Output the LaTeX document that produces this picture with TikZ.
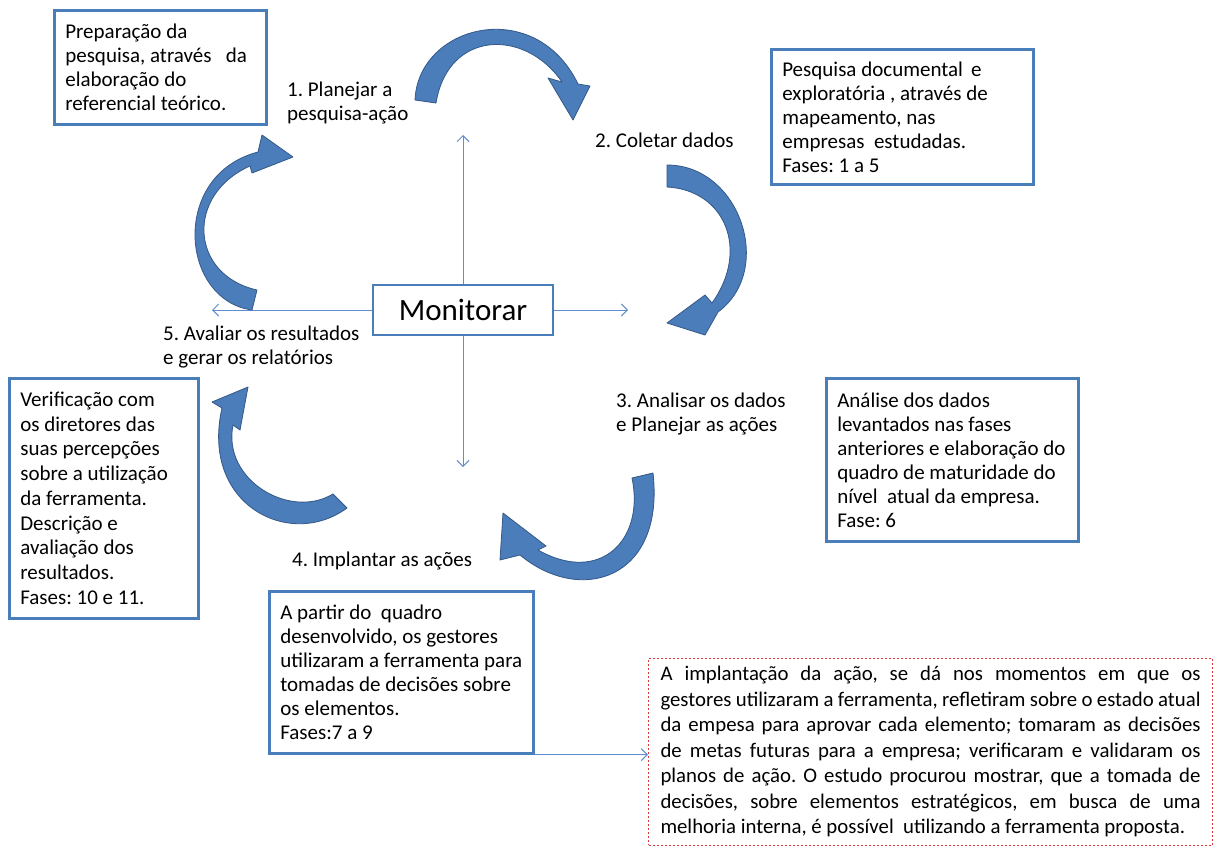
\documentclass[tikz,border=0pt]{standalone}
\usepackage{fontspec}
\setmainfont{Carlito}
\usetikzlibrary{arrows.meta}
\definecolor{boxblue}{RGB}{74,126,187}
\definecolor{arrowfill}{RGB}{74,125,186}
\definecolor{arrowedge}{RGB}{52,88,135}
\definecolor{thinblue}{RGB}{96,142,206}
\definecolor{notered}{RGB}{222,60,60}
\newcommand\bodyfont{\fontsize{21}{24}\selectfont\frenchspacing}
\newcommand\notefont{\fontsize{20.8}{25.5}\selectfont\frenchspacing}
\newcommand\nl[1]{\makebox[540pt][s]{#1}\\}
\tikzset{
  natural spaces/.style={execute at begin node={\spaceskip=0pt\xspaceskip=0pt}},
  box/.style={draw=boxblue, line width=2.6pt, fill=white, inner xsep=11pt,
    inner ysep=0pt, align=left, anchor=north west, font=\bodyfont, natural spaces},
  lbl/.style={align=left, anchor=north west, inner sep=0pt, font=\bodyfont, natural spaces},
  blockarrow/.style={fill=arrowfill, draw=arrowedge, line width=0.8pt, line join=round},
  ray/.style={draw=thinblue, line width=1pt, -{Straight Barb[length=6pt,width=12pt]}},
}
\begin{document}
\begin{tikzpicture}[x=1pt, y=-1pt]
\useasboundingbox (0,0) rectangle (1214,846);

% central node and the four rays
\node[draw=boxblue, line width=2.6pt, minimum width=180pt, minimum height=50pt,
  font=\fontsize{31}{33}\selectfont] (mon) at (463,310) {Monitorar};
\coordinate (rayN) at (463,135);
\coordinate (rayS) at (463,467);
\coordinate (rayW) at (212,310);
\coordinate (rayE) at (628,310);
\draw[ray] (mon.north) -- (rayN);
\draw[ray] (mon.south) -- (rayS);
\draw[ray] (mon.west) -- (rayW);
\draw[ray] (mon.east) -- (rayE);

% curved block arrows of the cycle
% 1 -> 2
\path[blockarrow] (415,100) .. controls (418,25) and (535,-5) .. (578,84)
  -- (590,86) -- (573,120) -- (548,78) -- (562,82)
  .. controls (525,28) and (448,30) .. (436,103) -- cycle;
% 2 -> 3
\path[blockarrow] (667,165) .. controls (740,165) and (775,270) .. (718,312)
  -- (705,335) -- (667,323) -- (705,295) -- (712,303)
  .. controls (750,250) and (725,190) .. (667,187) -- cycle;
% 3 -> 4
\path[blockarrow] (653,473) .. controls (665,580) and (580,605) .. (520,555)
  -- (500,560) -- (503,513) -- (546,546) -- (538,550)
  .. controls (600,585) and (645,540) .. (632,478) -- cycle;
% 4 -> 5
\path[blockarrow] (347,508) .. controls (290,550) and (200,505) .. (222,408)
  -- (212,402) -- (248,387) -- (240,430) -- (233,425)
  .. controls (222,480) and (290,520) .. (333,494) -- cycle;
% 5 -> 1
\path[blockarrow] (252,310) .. controls (180,300) and (170,175) .. (258,152)
  -- (262,135) -- (293,157) -- (252,173) -- (250,166)
  .. controls (185,195) and (190,275) .. (257,290) -- cycle;

% step labels
\node[lbl] (s1) at (287,82) {1. Planejar a\\pesquisa-ação};
\node[lbl] (s2) at (595,133) {2. Coletar dados};
\node[lbl] (s3) at (616,393) {3. Analisar os dados\\e Planejar as ações};
\node[lbl] (s4) at (292,552) {4. Implantar as ações};
\node[lbl] (s5) at (163,326) {5. Avaliar os resultados\\e gerar os relatórios};

% description boxes
\node[box, minimum width=212pt, minimum height=114pt, text width=190pt] (prep) at (53,9)
  {Preparação da\\pesquisa, através \ \ da\\elaboração do\\referencial teórico.};
\node[box, minimum width=262pt, minimum height=135pt, text width=240pt] (coleta) at (770,48)
  {Pesquisa documental \,e\\exploratória , através de\\mapeamento, nas\\empresas \ estudadas.\\Fases: 1 a 5};
\node[box, minimum width=252pt, minimum height=163pt, text width=230pt] (analise) at (825,377)
  {Análise dos dados\\levantados nas fases\\anteriores e elaboração do\\quadro de maturidade do\\nível \ atual da empresa.\\Fase: 6};
\node[box, minimum width=189pt, minimum height=240pt, text width=167pt,
  font=\fontsize{21}{24.75}\selectfont\frenchspacing] (verif) at (8,377)
  {Verificação com\\os diretores das\\suas percepções\\sobre a utilização\\da ferramenta.\\Descrição e\\avaliação dos\\resultados.\\Fases: 10 e 11.};
\node[box, minimum width=264pt, minimum height=162pt, text width=242pt] (implant) at (268,590)
  {A partir do \ quadro\\desenvolvido, os gestores\\utilizaram a ferramenta para\\tomadas de decisões sobre\\os elementos.\\Fases:7 a 9};

% note on the implementation step, justified line by line
\node[draw=notered, line width=1pt, dash pattern=on 2.5pt off 1.5pt, anchor=north west,
  inner xsep=12pt, inner ysep=8pt, text width=540pt, align=left, font=\notefont,
  execute at begin node={\spaceskip=0.226em plus 1fil minus 0.1em\xspaceskip=0pt}] (note) at (648,658)
  {\nl{A implantação da ação, se dá nos momentos em que os}
   \nl{gestores utilizaram a ferramenta, refletiram sobre o estado atual}
   \nl{da empesa para aprovar cada elemento; tomaram as decisões}
   \nl{de metas futuras para a empresa; verificaram e validaram os}
   \nl{planos de ação. O estudo procurou mostrar, que a tomada de}
   \nl{decisões, sobre elementos estratégicos, em busca de uma}
   \hbox{melhoria interna, é possível \ utilizando a ferramenta proposta.}};
\draw[ray] (implant.south east) -- (implant.south east -| note.west);
\end{tikzpicture}
\end{document}
